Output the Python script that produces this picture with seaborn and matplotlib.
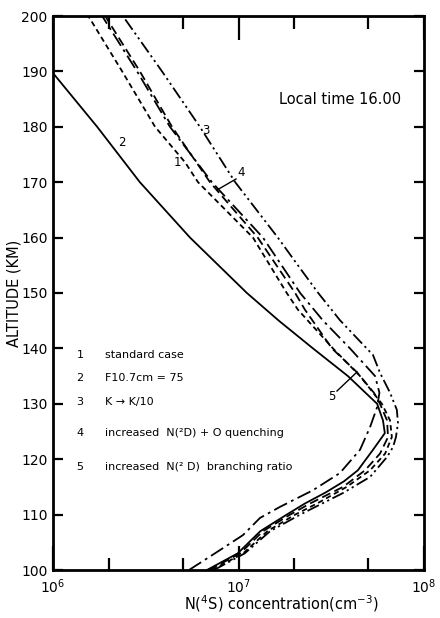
import numpy as np
import pandas as pd
import matplotlib
matplotlib.use("Agg")
import matplotlib.pyplot as plt
import seaborn as sns
from matplotlib.ticker import FixedLocator, NullFormatter

# ---- data: N(4S) concentration in units of 1e6 cm^-3 versus altitude (km) ----
alt_1 = [100, 103, 107, 110, 112, 115, 118, 121, 124, 127, 130, 135, 140, 147, 150, 160, 170, 173.6, 180, 190, 200]
n_1   = [7.19, 10.6, 14.3, 20.2, 26.5, 38.3, 51.2, 61.7, 67.1, 65.6, 59.3, 45.2, 32.3, 20.9, 18.2, 11.97, 6.05, 5.15, 3.55, 2.36, 1.55]

alt_2 = [100, 103, 107, 110, 112, 114, 116, 118, 121.7, 124.7, 127, 130, 135, 140, 145, 150, 160, 170, 180, 189.7]
n_2   = [6.76, 9.9, 13.1, 18.2, 22.8, 29.5, 37.0, 44.0, 53.1, 61.5, 60.1, 55.9, 38.9, 25.2, 16.5, 11.1, 5.48, 2.94, 1.73, 1.0]

alt_3 = [100, 103, 107, 110, 113.9, 116.8, 120.4, 122.2, 124, 126.5, 128.9, 132, 135.6, 138.8, 145.1, 150, 155, 160, 170, 180, 190, 200]
n_3   = [7.38, 10.8, 14.8, 21.5, 36.6, 51.2, 63.2, 68.1, 70.6, 72.4, 71.4, 65.6, 57.9, 53.1, 35.2, 26.9, 20.9, 16.3, 9.6, 6.19, 3.87, 2.38]

alt_4 = [100, 103, 106.3, 109.4, 111.4, 114.4, 117.5, 121.7, 125.8, 129.4, 132, 135, 140, 145, 150, 160, 170, 180, 190, 200]
n_4   = [5.41, 7.46, 10.57, 13.06, 16.75, 25.2, 35.2, 45.2, 51.2, 55.9, 57.5, 54.5, 39.9, 28.6, 21.5, 13.55, 7.19, 4.27, 2.84, 1.84]

alt_5 = [100, 103, 107, 110, 112, 115, 118, 121, 124, 127, 130, 132, 135.7, 140, 147, 150, 160, 170, 180, 190, 200]
n_5   = [6.93, 10.2, 13.55, 19.0, 24.3, 36.6, 48.1, 57.9, 64.0, 63.2, 57.9, 53.7, 43.5, 31.9, 22.8, 20.2, 12.7, 7.02, 4.38, 2.94, 1.91]

case_ids = ["1", "2", "3", "4", "5"]
legend_texts = [
    "standard case",
    "F10.7cm = 75",
    "K \u2192 K/10",
    "increased  N(\u00b2D) + O quenching",
    "increased  N(\u00b2 D)  branching ratio",
]
x_ticks_major = [1e6, 1e7, 1e8]
x_ticks_minor = [2e6, 5e6, 2e7, 5e7]
y_ticks = [100, 110, 120, 130, 140, 150, 160, 170, 180, 190, 200]

frames = []
for cid, a, n in zip(case_ids, [alt_1, alt_2, alt_3, alt_4, alt_5], [n_1, n_2, n_3, n_4, n_5]):
    frames.append(pd.DataFrame({"alt": a, "conc": np.array(n) * 1e6, "case": cid}))
df = pd.concat(frames, ignore_index=True)

dash_styles = {
    "1": (3, 2),
    "2": "",
    "3": (7, 2, 1.2, 2, 1.2, 2),
    "4": (8, 2.5, 1.5, 2.5),
    "5": (5, 2.5),
}

fig = plt.figure(figsize=(4.4, 6.18), dpi=100)
ax = fig.add_axes([53 / 440, 1 - 570 / 618, (424 - 53) / 440, (570 - 16) / 618])

sns.lineplot(data=df, x="conc", y="alt", hue="case", style="case", units="case",
             estimator=None, sort=False, palette=["black"] * 5, dashes=dash_styles,
             linewidth=1.3, legend=False, ax=ax)

ax.set_xscale("log")
ax.set_xlim(1e6, 1e8)
ax.set_ylim(100, 200)
ax.xaxis.set_major_locator(FixedLocator(x_ticks_major))
ax.xaxis.set_minor_locator(FixedLocator(x_ticks_minor))
ax.xaxis.set_minor_formatter(NullFormatter())
ax.set_yticks(y_ticks)
ax.tick_params(axis="x", which="major", direction="in", length=17, width=1.6, top=True,
               labelsize=10, pad=5)
ax.tick_params(axis="x", which="minor", direction="in", length=9, width=1.6, top=True)
ax.tick_params(axis="y", which="major", direction="in", length=7, width=1.6, right=True,
               labelsize=10, pad=4)
for s in ax.spines.values():
    s.set_linewidth(2.0)

ax.set_xlabel("")
ax.set_ylabel("ALTITUDE (KM)", fontsize=10.5)
ax.yaxis.set_label_coords(-0.085, 0.5)


def fx(px):
    return (px - 53) / 371


def fy(py):
    return (570 - py) / 554


ax.text(fx(281), fy(604), "N($^4$S) concentration(cm$^{-3}$)", transform=ax.transAxes,
        ha="center", va="center", fontsize=10.5)

ax.text(fx(340), fy(100), "Local time 16.00", transform=ax.transAxes, ha="center", va="center", fontsize=10.5)

# curve labels
for lab, (px, py) in zip(case_ids, [(177, 162), (122, 143), (206, 130), (241, 173), (332, 397)]):
    ax.text(fx(px), fy(py), lab, transform=ax.transAxes, ha="center", va="center", fontsize=8.5)
ax.plot([fx(236), fx(217)], [fy(179), fy(190)], transform=ax.transAxes, color="black", lw=1.0)
ax.plot([fx(337), fx(357)], [fy(391), fy(372)], transform=ax.transAxes, color="black", lw=1.0)

# legend text block
for cid, txt, py in zip(case_ids, legend_texts, [355, 378, 402, 433, 467]):
    ax.text(fx(80), fy(py), cid, transform=ax.transAxes, ha="center", va="center", fontsize=8)
    ax.text(fx(105), fy(py), txt, transform=ax.transAxes, ha="left", va="center", fontsize=8)

fig.savefig("out.png", dpi=100)
